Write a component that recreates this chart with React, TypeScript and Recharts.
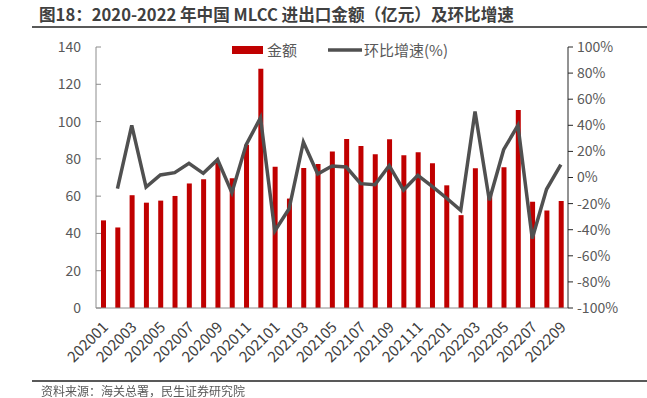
import React from "react";
import {
  ComposedChart,
  Bar,
  Line,
  XAxis,
  YAxis,
} from "recharts";

// monthly categories
const months = [
  "202001", "202002", "202003", "202004", "202005", "202006", "202007", "202008",
  "202009", "202010", "202011", "202012", "202101", "202102", "202103", "202104",
  "202105", "202106", "202107", "202108", "202109", "202110", "202111", "202112",
  "202201", "202202", "202203", "202204", "202205", "202206", "202207", "202208",
  "202209",
];

// 金额 (亿元)
const amounts = [
  47, 43.2, 60.5, 56.5, 57.6, 60.1, 66.8, 69, 77.8, 69.6, 87.6, 128.3, 75.8, 58.7,
  75.1, 77.2, 84, 90.6, 86.9, 82.5, 90.5, 82, 83.5, 77.6, 65.8, 49.8, 75, 61.8,
  75.5, 106.2, 57, 52.3, 57.4,
];

// 环比增速 (%)
const growth: (number | null)[] = [
  null, -8.6, 40, -7.3, 1.9, 3.7, 10.9, 3.2, 13.7, -11.6, 25.2, 45.8, -41, -24,
  27.2, 2.7, 8.8, 8, -4.7, -5.5, 9.1, -9.6, 1.7, -6.8, -15.7, -25.2, 50.6, -17.5,
  21.3, 40, -46.8, -9, 9.8,
];

const leftTicks = [0, 20, 40, 60, 80, 100, 120, 140];
const rightTicks = [-100, -80, -60, -40, -20, 0, 20, 40, 60, 80, 100];

const data = months.map((m, i) => ({
  month: m,
  amount: amounts[i],
  growth: growth[i],
}));

const FONT = "'Noto Sans CJK SC', 'Noto Sans', sans-serif";
const textColor = "#595959";

// left ticks point inside the plot
const LeftTick = (props: any) => {
  const { x, y, payload } = props;
  return (
    <g>
      <line x1={x + 15} x2={x + 20} y1={y} y2={y} stroke="#8c8c8c" />
      <text x={x} y={y} dy={5} textAnchor="end" fill={textColor} fontSize={14} fontFamily={FONT}>
        {payload.value}
      </text>
    </g>
  );
};

const XTick = (props: any) => {
  const { x, y, payload } = props;
  return (
    <text
      x={x + 6}
      y={y + 12}
      textAnchor="end"
      fill="#404040"
      fontSize={15}
      fontFamily={FONT}
      transform={`rotate(-45, ${x + 6}, ${y + 12})`}
    >
      {payload.value}
    </text>
  );
};

export default function App() {
  return (
    <div
      style={{
        position: "fixed",
        left: 0,
        top: 0,
        width: 647,
        height: 398,
        background: "#fff",
        fontFamily: FONT,
      }}
    >
      <div
        style={{
          position: "absolute",
          left: 39,
          top: 5,
          fontSize: 16.6,
          lineHeight: "18px",
          fontWeight: 700,
          color: "#404040",
          whiteSpace: "nowrap",
        }}
      >
        图18：2020-2022 年中国 MLCC 进出口金额（亿元）及环比增速
      </div>
      <div
        style={{
          position: "absolute",
          left: 32,
          right: 0,
          top: 26,
          height: 1.5,
          background: "#595959",
        }}
      />
      <ComposedChart
        width={647}
        height={398}
        data={data}
        margin={{ top: 47, right: 0, left: 0, bottom: 30 }}
      >
        <XAxis
          dataKey="month"
          interval={1}
          tick={<XTick />}
          tickLine={false}
          axisLine={{ stroke: "#8c8c8c" }}
          height={60}
        />
        <YAxis
          yAxisId="left"
          domain={[0, 140]}
          ticks={leftTicks}
          width={96}
          tickSize={0}
          tickMargin={15}
          tickLine={false}
          axisLine={{ stroke: "#8c8c8c" }}
          tick={<LeftTick />}
        />
        <YAxis
          yAxisId="right"
          orientation="right"
          domain={[-100, 100]}
          ticks={rightTicks}
          width={79}
          tickSize={5}
          tickMargin={4}
          tickLine={{ stroke: "#262626" }}
          axisLine={{ stroke: "#262626" }}
          tickFormatter={(v: number) => `${v}%`}
          tick={{ fill: textColor, fontSize: 14, fontFamily: FONT }}
        />
        <Bar
          yAxisId="left"
          dataKey="amount"
          name="金额"
          fill="#C00000"
          barSize={5}
          isAnimationActive={false}
        />
        <Line
          yAxisId="right"
          dataKey="growth"
          name="环比增速(%)"
          stroke="#505050"
          strokeWidth={3.5}
          dot={false}
          activeDot={false}
          isAnimationActive={false}
        />
      </ComposedChart>
      {/* legend */}
      <svg
        width={240}
        height={26}
        style={{ position: "absolute", left: 230, top: 37 }}
      >
        <rect x={2} y={9} width={31} height={8} fill="#C00000" />
        <text x={37} y={19} fontSize={15} fill={textColor} fontFamily={FONT}>
          金额
        </text>
        <line x1={98} x2={132} y1={13} y2={13} stroke="#505050" strokeWidth={3.5} />
        <text x={134} y={19} fontSize={15} fill={textColor} fontFamily={FONT}>
          环比增速(%)
        </text>
      </svg>
      <div
        style={{
          position: "absolute",
          left: 32,
          right: 0,
          top: 380,
          height: 1.5,
          background: "#595959",
        }}
      />
      <div
        style={{
          position: "absolute",
          left: 41,
          top: 384,
          fontSize: 12,
          lineHeight: "13px",
          color: textColor,
          whiteSpace: "nowrap",
        }}
      >
        资料来源：海关总署，民生证券研究院
      </div>
    </div>
  );
}
